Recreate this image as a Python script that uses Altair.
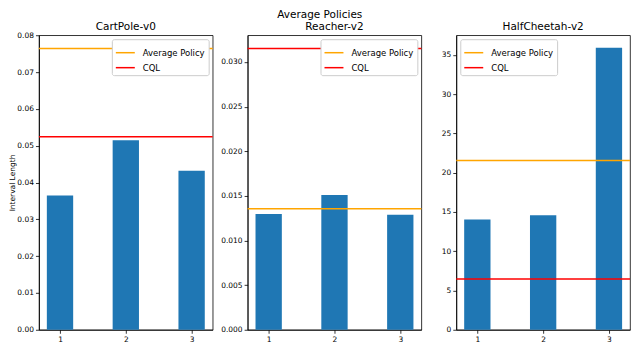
import altair as alt
import pandas as pd

envs = ["CartPole-v0", "Reacher-v2", "HalfCheetah-v2"]
positions = [1, 2, 3]
cartpole_vals = [0.0365, 0.0515, 0.0432]
reacher_vals = [0.01296, 0.01511, 0.01289]
halfcheetah_vals = [14.04, 14.59, 35.89]
avg_policy = [0.0764, 0.01356, 21.55]
cql = [0.0524, 0.03152, 6.45]
series_names = ["Average Policy", "CQL"]
series_colors = ["orange", "red"]
y_max = [0.08, 0.033, 37.5]
y_steps = [0.01, 0.005, 5]
y_formats = [".2f", ".3f", "d"]
legend_orients = ["top-right", "top-right", "top-left"]

FONT = "DejaVu Sans"
PANEL_W = 174
PANEL_H = 295


def panel(i, vals):
    bars = pd.DataFrame({"pos": positions, "val": vals})
    lines = pd.DataFrame({"series": series_names, "val": [avg_policy[i], cql[i]]})
    names = pd.DataFrame({"name": [envs[i]]})
    yscale = alt.Scale(domain=[0, y_max[i]], nice=False, zero=True)
    n = int(y_max[i] / y_steps[i] + 1e-9)
    ticks = [round(k * y_steps[i], 6) for k in range(n + 1)]
    yaxis = alt.Axis(values=ticks, format=y_formats[i],
                     title="Interval Length" if i == 0 else None,
                     titlePadding=0, labelOverlap=False)
    xenc = alt.X("x0:Q",
                 scale=alt.Scale(domain=[0.68, 3.32], nice=False, zero=False),
                 axis=alt.Axis(values=positions, format="d", title=None))
    bar = (
        alt.Chart(bars)
        .transform_calculate(x0="datum.pos - 0.2", x1="datum.pos + 0.2")
        .mark_rect(color="#1f77b4")
        .encode(x=xenc, x2="x1:Q",
                y=alt.Y("val:Q", scale=yscale, axis=yaxis),
                y2=alt.datum(0))
    )
    rules = (
        alt.Chart(lines)
        .mark_rule(strokeWidth=1.5)
        .encode(
            y=alt.Y("val:Q", scale=yscale, axis=yaxis),
            color=alt.Color(
                "series:N",
                scale=alt.Scale(domain=series_names, range=series_colors),
                legend=alt.Legend(
                    title=None, orient=legend_orients[i], offset=4,
                    symbolType="stroke", symbolSize=361, symbolStrokeWidth=1.5,
                    labelFontSize=8.5, labelFont=FONT, labelColor="black",
                    fillColor="white", strokeColor="#cccccc", cornerRadius=2,
                    padding=3, rowPadding=-4, labelOffset=7,
                ),
            ),
        )
    )
    title = (
        alt.Chart(names)
        .mark_text(font=FONT, fontSize=10.5, color="black", baseline="alphabetic")
        .encode(text="name:N", x=alt.value(PANEL_W / 2), y=alt.value(-5))
    )
    return alt.layer(bar, rules, title).properties(width=PANEL_W, height=PANEL_H)


chart = (
    alt.hconcat(
        panel(0, cartpole_vals),
        panel(1, reacher_vals),
        panel(2, halfcheetah_vals),
        spacing=35,
        bounds="flush",
    )
    .resolve_scale(y="independent", x="independent", color="independent")
    .resolve_legend(color="independent")
    .properties(
        title=alt.TitleParams("Average Policies", fontSize=10.5, fontWeight="normal",
                              font=FONT, color="black", anchor="middle", offset=1),
        padding={"left": 0, "top": 2, "right": 0, "bottom": 0},
    )
    .configure_view(stroke="black", strokeWidth=0.8)
    .configure_axis(
        domainColor="black", domainWidth=0.8, tickColor="black", tickWidth=0.8,
        tickSize=3.5, labelColor="black", labelFont=FONT, labelFontSize=7.5,
        titleFont=FONT, titleFontSize=7.5, titleFontWeight="normal",
        titleColor="black", grid=False, labelPadding=2,
    )
)

chart.save("out.html", embed_options={"renderer": "svg", "actions": False})
